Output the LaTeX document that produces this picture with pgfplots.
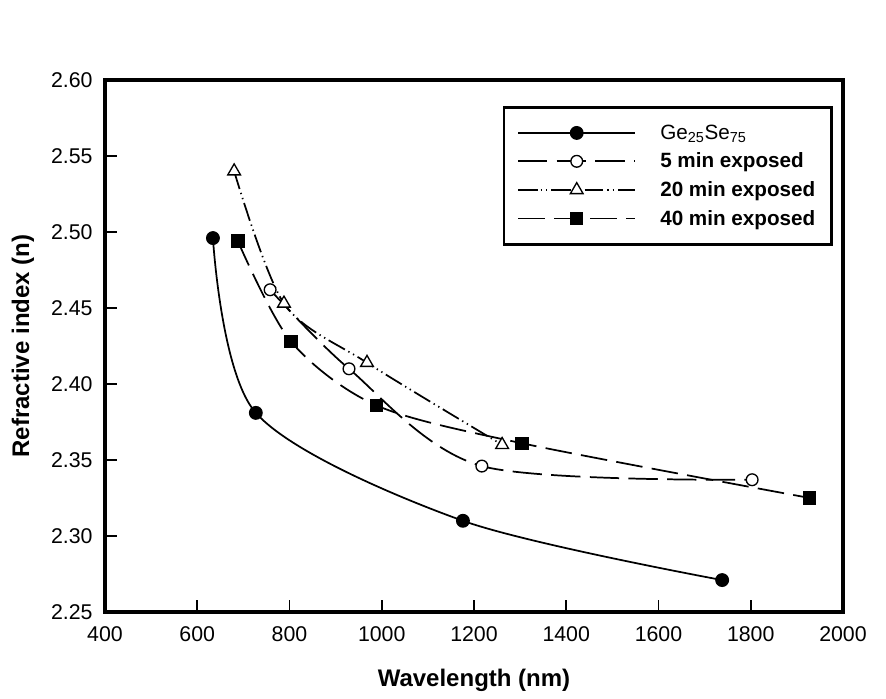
\documentclass[border=0pt]{standalone}
\usepackage{fontspec}
\setmainfont{Liberation Sans}
\usepackage{pgfplots}
\pgfplotsset{compat=1.18}
\begin{document}
\begin{tikzpicture}
\begin{axis}[
  scale only axis,
  width=553.5pt, height=399pt,
  line width=3pt,
  axis line style={line width=3pt},
  xmin=400, xmax=2000, ymin=2.25, ymax=2.60,
  xtick={400,600,800,1000,1200,1400,1600,1800,2000},
  ytick={2.25,2.30,2.35,2.40,2.45,2.50,2.55,2.60},
  tick pos=left,
  tick align=inside,
  major tick length=9pt,
  every tick/.style={black, line width=1.3pt},
  /pgf/number format/assume math mode=true,
  ticklabel style={font=\fontsize{16}{19}\selectfont},
  xticklabel style={/pgf/number format/set thousands separator={}, yshift=-6pt},
  yticklabel style={/pgf/number format/.cd, fixed, fixed zerofill, precision=2, assume math mode=true, /tikz/xshift=-4.5pt},
  xlabel={Wavelength (nm)},
  ylabel={Refractive index (n)},
  every axis x label/.style={at={(axis description cs:0.5,-0.1278)}, anchor=center, font=\fontsize{18}{21}\selectfont\bfseries},
  every axis y label/.style={at={(axis description cs:-0.1111,0.5)}, rotate=90, anchor=center, font=\fontsize{18}{21}\selectfont\bfseries},
  legend style={at={(0.986,0.951)}, anchor=north east, draw=black, line width=2pt,
    font=\fontsize{15.5}{18}\selectfont\bfseries, inner xsep=10pt, inner ysep=11pt, row sep=4.75pt,
    /tikz/every odd column/.append style={column sep=16pt}},
  legend cell align=left,
  legend image code/.code={\draw[mark repeat=2,mark phase=2,#1] plot coordinates {(0pt,0pt) (44pt,0pt) (88pt,0pt)};},
]
\addplot[black, line width=1.3pt, smooth, mark=*, mark size=4.8pt, mark options={solid, fill=black, line width=0.8pt}]
  coordinates {(634,2.496) (727,2.381) (1176,2.310) (1738,2.271)};
\addlegendentry{\mdseries Ge\textsubscript{25}Se\textsubscript{75}}
\addplot[black, line width=1.3pt, smooth, dash pattern=on 22pt off 7pt, mark=*, mark size=4.4pt, mark options={solid, fill=white, line width=1pt}]
  coordinates {(758,2.462) (929,2.410) (1217,2.346) (1803,2.337)};
\addlegendentry{5 min exposed}
\addplot[black, line width=1.3pt, smooth, dash pattern=on 14pt off 3pt on 1pt off 3pt on 1pt off 3pt, mark=triangle*, mark size=5.5pt, mark options={solid, fill=white, line width=1pt}]
  coordinates {(680,2.540) (788,2.453) (968,2.414) (1261,2.360)};
\addlegendentry{20 min exposed}
\addplot[black, line width=1.3pt, smooth, dash pattern=on 20pt off 7pt, mark=square*, mark size=4.6pt, mark options={solid, fill=black, line width=0.8pt}]
  coordinates {(688,2.494) (803,2.428) (988,2.386) (1304,2.361) (1928,2.325)};
\addlegendentry{40 min exposed}
\end{axis}
\path ([xshift=-78.75pt,yshift=-65.25pt]current axis.south west) rectangle ([xshift=32.25pt,yshift=60pt]current axis.north east);
\end{tikzpicture}
\end{document}
